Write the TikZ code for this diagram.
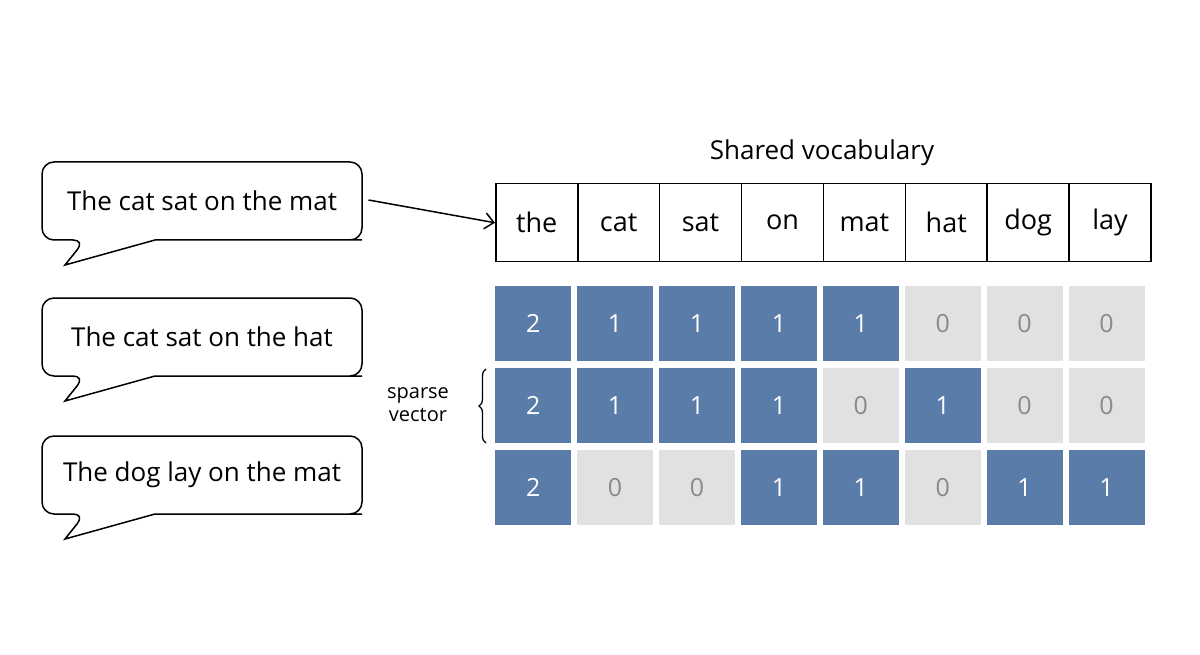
\documentclass[tikz,border=0pt]{standalone}
\usepackage{fontspec}
\setmainfont{Open Sans}
\usetikzlibrary{decorations.pathreplacing,arrows.meta}
\definecolor{blu}{HTML}{5A7CA8}
\definecolor{gry}{HTML}{E1E1E1}
\definecolor{gtx}{HTML}{8A8A8A}
\begin{document}
\begin{tikzpicture}[x=1pt,y=-1pt,
  bubtext/.style={font=\fontsize{26}{30}\selectfont},
  vcell/.style={draw,line width=1.5pt,minimum width=82pt,minimum height=78pt,anchor=north west,inner sep=0pt,font=\fontsize{27}{30}\selectfont},
  bc/.style={fill=blu,text=white,minimum width=76pt,minimum height=75pt,anchor=north west,inner sep=0pt,font=\fontsize{25}{30}\selectfont},
  gc/.style={fill=gry,text=gtx,minimum width=76pt,minimum height=75pt,anchor=north west,inner sep=0pt,font=\fontsize{25}{30}\selectfont}]
\useasboundingbox (0,0) rectangle (1200,655);
% bubbles
\foreach \y/\t/\n in {162/The cat sat on the mat/b1,298/The cat sat on the hat/b2,436/The dog lay on the mat/b3}{
  \draw[line width=1.5pt,fill=white,rounded corners=12pt]
    (155,\y+78) -- (350,\y+78) -- (362,\y+78) -- (362,\y) -- (42,\y) -- (42,\y+78) -- (85,\y+78)
    [sharp corners] -- (65,\y+103) -- (155,\y+78);
  \node[bubtext] (\n) at (202,\y+39) {\t};
}
% vocabulary
\node[font=\fontsize{26}{30}\selectfont] (title) at (822,153) {Shared vocabulary};
\foreach \w [count=\i from 0] in {the,cat,sat,on,mat,hat,dog,lay}{
  \node[vcell] (v\i) at ({495+\i*81.9},183) {\w};
}
\draw[-{Straight Barb[length=9pt,width=16pt]},line width=1.5pt] (b1.east)++(28,-1) coordinate (a1) -- (v0.west);
% grid
\foreach \r/\vals in {0/{2,1,1,1,1,0,0,0},1/{2,1,1,1,0,1,0,0},2/{2,0,0,1,1,0,1,1}}{
  \foreach \v [count=\i from 0] in \vals{
    \ifnum\v=0
      \node[gc] (g\r\i) at ({495+\i*81.9},{286+\r*82}) {\v};
    \else
      \node[bc] (g\r\i) at ({495+\i*81.9},{286+\r*82}) {\v};
    \fi
  }
}
\draw[decorate,decoration={brace,amplitude=7pt},line width=1.3pt] (486,443) -- (486,369);
\node[font=\fontsize{20}{23}\selectfont,align=center] (sv) at (418,405) {sparse\\vector};
\end{tikzpicture}
\end{document}
